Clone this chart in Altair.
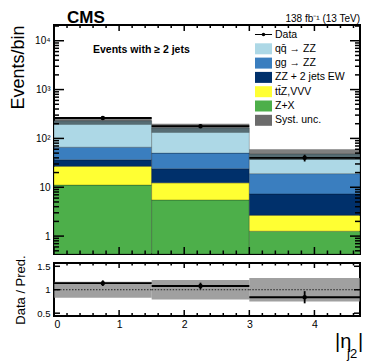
import math
import altair as alt
import pandas as pd

# ---------------- values ----------------
bin_lo = [0.0, 1.5, 3.0]
bin_hi = [1.5, 3.0, 4.7]
data_x = [0.75, 2.25, 3.85]

# stacked contributions (events/bin), bottom -> top
zx_vals = [11.1, 5.5, 1.26]
ttz_vals = [15.7, 6.8, 1.40]
ew_vals = [9.7, 11.7, 4.65]
gg_vals = [29.5, 26.0, 11.7]
qq_vals = [164.0, 115.0, 29.0]

data_vals = [262.0, 178.0, 40.0]
data_errs = [16.0, 13.0, 6.3]
syst_unc = [0.17, 0.21, 0.25]

ratio_vals = [1.14, 1.08, 0.84]
ratio_errs = [0.06, 0.07, 0.13]

stack_names = ["Z+X", "tt\u0304Z,VVV", "ZZ + 2 jets EW", "gg \u2192 ZZ", "qq\u0304 \u2192 ZZ"]
legend_names = ["Data", "qq\u0304 \u2192 ZZ", "gg \u2192 ZZ", "ZZ + 2 jets EW",
                "tt\u0304Z,VVV", "Z+X", "Syst. unc."]
legend_fill = ["#000000", "#add8e6", "#3a7ebf", "#00306b", "#ffff33", "#4daf4a", "#6b6b6b"]

y_major = [1, 10, 100, 1000, 10000]
x_major = [0, 1, 2, 3, 4]
r_major = [0.5, 1.0, 1.5]

cms_text = ["CMS"]
lumi_text = ["138 fb\u207b\u00b9 (13 TeV)"]
sel_text = ["Events with \u2265 2 jets"]
xt_main = ["|\u03b7"]
xt_sub = ["j2"]
xt_end = ["|"]

# ---------------- tables ----------------
XMIN, XMAX = 0.0, 4.7
YMIN, YMAX = 0.43, 2.1e4
RMIN, RMAX = 0.44, 1.57
W, H, RH = 306, 229, 53

series = [zx_vals, ttz_vals, ew_vals, gg_vals, qq_vals]
rows = []
totals = []
for b in range(3):
    base = 0.0
    for name, vals in zip(stack_names, series):
        lo = base
        base += vals[b]
        rows.append(dict(entry=name, x0=bin_lo[b], x1=bin_hi[b], lo=max(lo, YMIN), hi=base))
    totals.append(base)
stack_df = pd.DataFrame(rows)

band_df = pd.DataFrame(dict(
    x0=bin_lo, x1=bin_hi,
    lo=[t * (1 - u) for t, u in zip(totals, syst_unc)],
    hi=[t * (1 + u) for t, u in zip(totals, syst_unc)],
    rlo=[1 - u for u in syst_unc],
    rhi=[1 + u for u in syst_unc],
))

data_df = pd.DataFrame(dict(
    x=data_x, x0=bin_lo, x1=bin_hi, y=data_vals,
    ylo=[v - e for v, e in zip(data_vals, data_errs)],
    yhi=[v + e for v, e in zip(data_vals, data_errs)],
    r=ratio_vals,
    rlo=[v - e for v, e in zip(ratio_vals, ratio_errs)],
    rhi=[v + e for v, e in zip(ratio_vals, ratio_errs)],
))

legend_df = pd.DataFrame(dict(entry=legend_names))

FONT = "Liberation Sans"
XS = alt.Scale(domain=[XMIN, XMAX], nice=False, zero=False)
YS = alt.Scale(type="log", domain=[YMIN, YMAX], nice=False)
RS = alt.Scale(domain=[RMIN, RMAX], nice=False, zero=False)

x_minor = [round(0.2 * i, 1) for i in range(24) if i % 5 != 0]
y_minor = [round(k * 10.0 ** e, 6) for e in range(-1, 5) for k in range(2, 10)
           if YMIN <= k * 10.0 ** e <= YMAX]


# ---- frame tick tables (tick lengths converted from pixels to data units) ----
def dx(px):
    return px / W * (XMAX - XMIN)


DEC = H / math.log10(YMAX / YMIN)  # pixels per decade


def side_ticks(spec):
    out = []
    for values, length in spec:
        for v in values:
            out.append(dict(tv=float(v), ta=XMIN, tb=XMIN + dx(length)))
            out.append(dict(tv=float(v), ta=XMAX - dx(length), tb=XMAX))
    return pd.DataFrame(out)


main_side = side_ticks([(y_major, 10), (y_minor, 5)])
ratio_side = side_ticks([(r_major, 6)])

mt = []
for values, lb, lt in [(x_major, 7, 6), (x_minor, 3.5, 3)]:
    for v in values:
        mt.append(dict(tv=float(v), ta=YMIN, tb=YMIN * 10 ** (lb / DEC)))
        mt.append(dict(tv=float(v), ta=YMAX / 10 ** (lt / DEC), tb=YMAX))
main_tb = pd.DataFrame(mt)

rt = []
for values, lb, lt in [(x_major, 6, 5), (x_minor, 3, 2.5)]:
    for v in values:
        rt.append(dict(tv=float(v), ta=RMIN, tb=RMIN + lb / RH * (RMAX - RMIN)))
        rt.append(dict(tv=float(v), ta=RMAX - lt / RH * (RMAX - RMIN), tb=RMAX))
ratio_tb = pd.DataFrame(rt)

TICK_W = 1.5


def side_layer(df, yscale):
    return alt.Chart(df).mark_rule(color="#000000", strokeWidth=TICK_W).encode(
        x=alt.X("ta:Q", scale=XS, axis=None), x2="tb:Q",
        y=alt.Y("tv:Q", scale=yscale, axis=None))


def tb_layer(df, yscale):
    return alt.Chart(df).mark_rule(color="#000000", strokeWidth=TICK_W).encode(
        x=alt.X("tv:Q", scale=XS, axis=None),
        y=alt.Y("ta:Q", scale=yscale, axis=None), y2="tb:Q")


color_scale = alt.Scale(domain=legend_names, range=legend_fill)

DATA_PATH = ("M-1.55,-0.09H1.55V0.09H-1.55Z "
             "M-0.32,0A0.32,0.32 0 1,1 0.32,0A0.32,0.32 0 1,1 -0.32,0Z")
RECT_PATH = "M-1.55,-1H1.55V1H-1.55Z"
legend_shapes = [DATA_PATH] + [RECT_PATH] * 6

# ---------------- main panel ----------------
stack = alt.Chart(stack_df).mark_rect(
    strokeWidth=0.8, stroke="black", strokeOpacity=0.3, clip=True
).encode(
    x=alt.X("x0:Q", scale=XS, axis=None),
    x2="x1:Q",
    y=alt.Y("hi:Q", scale=YS, axis=alt.Axis(
        orient="left", values=y_major,
        labelExpr="datum.value < 5 ? '1' : datum.value < 50 ? '10' : datum.value < 500 ? '10\u00b2' : datum.value < 5000 ? '10\u00b3' : '10\u2074'",
        ticks=False, domain=False, grid=False, title="Events/bin",
        titleFontSize=18, titleFontWeight="normal", titleAnchor="end",
        titlePadding=5, labelFontSize=10, labelPadding=4,
        minExtent=22, maxExtent=22)),
    y2="lo:Q",
    color=alt.Color("entry:N", scale=color_scale, legend=None),
)

band = alt.Chart(band_df).mark_rect(color="#000000", opacity=0.5, clip=True).encode(
    x=alt.X("x0:Q", scale=XS, axis=None),
    x2="x1:Q",
    y=alt.Y("hi:Q", scale=YS, axis=None),
    y2="lo:Q",
)

hline = alt.Chart(data_df).mark_rule(color="black", strokeWidth=1.8).encode(
    x=alt.X("x0:Q", scale=XS, axis=None),
    x2="x1:Q",
    y=alt.Y("y:Q", scale=YS, axis=None),
)

vline = alt.Chart(data_df).mark_rule(color="black", strokeWidth=1.8).encode(
    x=alt.X("x:Q", scale=XS, axis=None),
    y=alt.Y("ylo:Q", scale=YS, axis=None),
    y2="yhi:Q",
)

pts = alt.Chart(data_df).mark_circle(size=20, color="black", opacity=1).encode(
    x=alt.X("x:Q", scale=XS, axis=None),
    y=alt.Y("y:Q", scale=YS, axis=None),
)

LEG = alt.Legend(title=None, orient="none", legendX=204, legendY=4, padding=0,
                 labelFont=FONT, labelFontSize=10.5, labelColor="black",
                 symbolSize=121, rowPadding=3.3, labelOffset=6,
                 symbolStrokeWidth=0, symbolOpacity=1)

legend_layer = alt.Chart(legend_df).mark_point(filled=True, opacity=1, clip=True, size=121).encode(
    x=alt.value(-500), y=alt.value(-500),
    color=alt.Color("entry:N", scale=color_scale, legend=LEG),
    shape=alt.Shape("entry:N", scale=alt.Scale(domain=legend_names, range=legend_shapes), legend=LEG),
)

cms = alt.Chart(pd.DataFrame(dict(t=cms_text))).mark_text(
    font=FONT, fontSize=17, fontWeight="bold", align="left", baseline="alphabetic", color="black"
).encode(text="t:N", x=alt.value(13), y=alt.value(-2))

lumi = alt.Chart(pd.DataFrame(dict(t=lumi_text))).mark_text(
    font=FONT, fontSize=10, align="right", baseline="alphabetic", color="black"
).encode(text="t:N", x=alt.value(W), y=alt.value(-3))

sel = alt.Chart(pd.DataFrame(dict(t=sel_text))).mark_text(
    font=FONT, fontSize=10.5, fontWeight="bold", align="left", baseline="alphabetic", color="black"
).encode(text="t:N", x=alt.value(39), y=alt.value(28))

main = alt.layer(
    stack, band, hline, vline, pts,
    legend_layer, cms, lumi, sel,
    side_layer(main_side, YS), tb_layer(main_tb, YS),
).resolve_axis(x="independent", y="independent").resolve_scale(
    color="independent", shape="independent").properties(width=W, height=H)

# ---------------- ratio panel ----------------
rband = alt.Chart(band_df).mark_rect(color="#858585", opacity=0.78).encode(
    x=alt.X("x0:Q", scale=XS, axis=alt.Axis(
        orient="bottom", values=x_major, format="d", ticks=False, domain=False, grid=False,
        title=None, labelFontSize=10.5, labelPadding=3)),
    x2="x1:Q",
    y=alt.Y("rhi:Q", scale=RS, axis=alt.Axis(
        orient="left", values=r_major, labelExpr="format(datum.value, '~g')",
        ticks=False, domain=False, grid=False, title="Data / Pred.",
        titleFontSize=13, titleFontWeight="normal", titlePadding=5,
        labelFontSize=9.5, labelPadding=4, minExtent=22, maxExtent=22)),
    y2="rlo:Q",
)

rdot = alt.Chart(band_df).mark_rule(color="#222222", strokeWidth=1, strokeDash=[1.5, 1.5]).encode(
    x=alt.X("x0:Q", scale=XS, axis=None),
    x2="x1:Q",
    y=alt.YDatum(1.0, scale=RS, axis=None),
)

rhline = alt.Chart(data_df).mark_rule(color="black", strokeWidth=1.8).encode(
    x=alt.X("x0:Q", scale=XS, axis=None),
    x2="x1:Q",
    y=alt.Y("r:Q", scale=RS, axis=None),
)

rvline = alt.Chart(data_df).mark_rule(color="black", strokeWidth=1.8).encode(
    x=alt.X("x:Q", scale=XS, axis=None),
    y=alt.Y("rlo:Q", scale=RS, axis=None),
    y2="rhi:Q",
)

rpts = alt.Chart(data_df).mark_circle(size=20, color="black", opacity=1).encode(
    x=alt.X("x:Q", scale=XS, axis=None),
    y=alt.Y("r:Q", scale=RS, axis=None),
)

xt1 = alt.Chart(pd.DataFrame(dict(t=xt_main))).mark_text(
    font=FONT, fontSize=20, align="left", baseline="alphabetic", color="black"
).encode(text="t:N", x=alt.value(281), y=alt.value(85))
xt2 = alt.Chart(pd.DataFrame(dict(t=xt_sub))).mark_text(
    font=FONT, fontSize=13, align="left", baseline="alphabetic", color="black"
).encode(text="t:N", x=alt.value(293), y=alt.value(95))
xt3 = alt.Chart(pd.DataFrame(dict(t=xt_end))).mark_text(
    font=FONT, fontSize=20, align="left", baseline="alphabetic", color="black"
).encode(text="t:N", x=alt.value(304), y=alt.value(85))

ratio = alt.layer(
    rband, rdot, rhline, rvline, rpts,
    xt1, xt2, xt3,
    side_layer(ratio_side, RS), tb_layer(ratio_tb, RS),
).resolve_axis(x="independent", y="independent").properties(width=W, height=RH)

chart = alt.vconcat(main, ratio, spacing=9, bounds="flush").resolve_legend(
    color="independent", shape="independent"
).properties(padding=0).configure(font=FONT).configure_view(
    stroke="black", strokeWidth=2
).configure_axis(labelFont=FONT, titleFont=FONT, labelColor="black", titleColor="black", grid=False)

chart.save("out.html", embed_options={"renderer": "svg", "actions": False})
